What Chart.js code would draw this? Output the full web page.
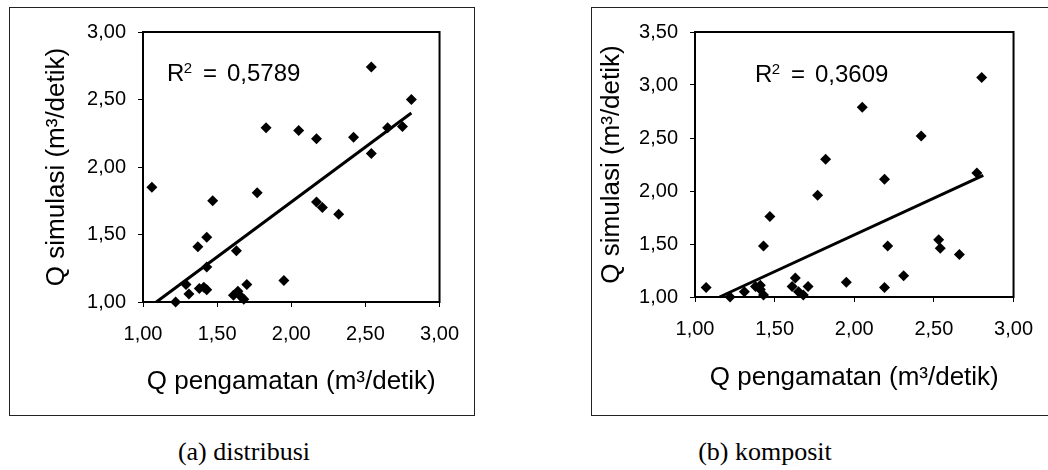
<!DOCTYPE html>
<html>
<head>
<meta charset="utf-8">
<script src="https://cdn.jsdelivr.net/npm/chart.js@4.4.1/dist/chart.umd.min.js"></script>
<style>
body{margin:0;background:#fff;width:1048px;height:470px;overflow:hidden;position:relative}
.kotak{position:absolute;border:1px solid #222;background:#fff;overflow:hidden}
.kotak canvas{display:block}
.caption{position:absolute;font-family:"Liberation Serif","Times New Roman",serif;font-size:26px;line-height:26px;color:#000;white-space:nowrap;transform:translateX(-50%)}
</style>
</head>
<body>

<div class="kotak" style="left:9px;top:7px;width:464px;height:407px"><canvas id="chartDistribusi" width="464" height="407"></canvas></div>
<div class="kotak" style="left:591px;top:7px;width:470px;height:407px"><canvas id="chartKomposit" width="456" height="407"></canvas></div>

<div class="caption" style="left:244px;top:439px">(a) distribusi</div>
<div class="caption" style="left:765px;top:439px">(b) komposit</div>

<script>
// tick labels
const xTicks=[1,1.5,2,2.5,3]
const yTicksDistribusi=[1,1.5,2,2.5,3]
const yTicksKomposit=[1,1.5,2,2.5,3,3.5]

// (a) distribusi
const distribusiX=[1.06,1.22,1.29,1.31,1.37,1.38,1.41,1.43,1.43,1.43,1.47,1.61,1.63,1.64,1.66,1.68,1.70,1.77,1.83,1.95,2.05,2.17,2.17,2.21,2.32,2.42,2.54,2.54,2.65,2.75,2.81]
const distribusiY=[1.85,1.00,1.13,1.06,1.41,1.10,1.11,1.09,1.26,1.48,1.75,1.05,1.38,1.08,1.04,1.02,1.13,1.81,2.29,1.16,2.27,2.21,1.74,1.70,1.65,2.22,2.74,2.10,2.29,2.30,2.50]
const trendDistribusiX=[1.09,2.81]
const trendDistribusiY=[1.00,2.40]

// (b) komposit
const kompositX=[1.07,1.22,1.31,1.38,1.41,1.41,1.43,1.43,1.47,1.61,1.63,1.65,1.68,1.71,1.77,1.82,1.95,2.05,2.19,2.19,2.21,2.31,2.42,2.53,2.54,2.66,2.77,2.80]
const kompositY=[1.09,1.00,1.05,1.10,1.11,1.07,1.02,1.48,1.76,1.10,1.18,1.05,1.02,1.10,1.96,2.30,1.14,2.79,2.11,1.09,1.48,1.20,2.52,1.54,1.46,1.40,2.17,3.07]
const trendKompositX=[1.154,2.81]
const trendKompositY=[1.00,2.148]

const FONT="'Liberation Sans', Arial, sans-serif"

function fmt(v){
return Number(v).toFixed(2).replace(".",",")
}

function gabung(xs,ys){
return xs.map((x,i)=>({x:x,y:ys[i]}))
}

// kotak plot + label R2
const kotakPlot={
id:"kotakPlot",
afterDatasetsDraw(chart,args,opt){
let ctx=chart.ctx
let a=chart.chartArea
ctx.save()
ctx.strokeStyle="#000"
ctx.lineWidth=2
ctx.strokeRect(a.left,a.top,a.right-a.left,a.bottom-a.top)

ctx.fillStyle="#000"
ctx.textBaseline="alphabetic"
ctx.textAlign="left"
ctx.font="24px "+FONT
ctx.fillText("R",opt.x,opt.y)
let w=ctx.measureText("R").width
ctx.font="15px "+FONT
ctx.fillText("2",opt.x+w-0.5,opt.y-8)
ctx.font="24px "+FONT
ctx.fillText("=",opt.x+36,opt.y)
ctx.fillText(opt.teks,opt.x+60,opt.y)
ctx.restore()
}
}

function buatChart(id,titik,garis,yTicks,yMax,u,r2){

new Chart(document.getElementById(id),{

type:"scatter",

data:{
datasets:[
{
data:titik,
backgroundColor:"#000",
borderColor:"#000",
pointStyle:"rectRot",
pointRadius:5.5,
pointHoverRadius:5.5,
borderWidth:0,
clip:false
},
{
type:"line",
data:garis,
borderColor:"#000",
borderWidth:3,
pointRadius:0,
fill:false,
clip:false
}
]
},

options:{
responsive:false,
animation:false,
devicePixelRatio:1,
events:[],
layout:{padding:{top:u.top,right:u.right,left:0,bottom:0}},
plugins:{
legend:{display:false},
tooltip:{enabled:false},
kotakPlot:r2
},
scales:{
x:{
type:"linear",
min:1,
max:3,
afterBuildTicks:s=>{s.ticks=xTicks.map(v=>({value:v}))},
afterFit:s=>{s.height=u.xh},
grid:{drawOnChartArea:false,color:"#000",tickLength:5,lineWidth:1},
border:{display:false},
ticks:{autoSkip:false,maxRotation:0,padding:15,color:"#000",font:{family:FONT,size:20},callback:v=>fmt(v)},
title:{display:true,text:"Q pengamatan (m³/detik)",color:"#000",font:{family:FONT,size:26},padding:{top:0,bottom:u.xt}}
},
y:{
type:"linear",
min:1,
max:yMax,
afterBuildTicks:s=>{s.ticks=yTicks.map(v=>({value:v}))},
afterFit:s=>{s.width=u.yw},
grid:{drawOnChartArea:false,color:"#000",tickLength:5,lineWidth:1},
border:{display:false},
ticks:{autoSkip:false,padding:12,color:"#000",font:{family:FONT,size:20},callback:v=>fmt(v)},
title:{display:true,text:"Q simulasi (m³/detik)",color:"#000",font:{family:FONT,size:26},padding:{top:u.yt,bottom:0}}
}
}
},

plugins:[kotakPlot]

})

}

buatChart("chartDistribusi",
gabung(distribusiX,distribusiY),
gabung(trendDistribusiX,trendDistribusiY),
yTicksDistribusi,3,
{top:24,right:21,xh:113,yw:133,xt:18,yt:31},
{x:157,y:73,teks:"0,5789"})

buatChart("chartKomposit",
gabung(kompositX,kompositY),
gabung(trendKompositX,trendKompositY),
yTicksKomposit,3.5,
{top:19,right:29,xh:118,yw:103,xt:22,yt:4},
{x:163,y:74,teks:"0,3609"})
</script>
</body>
</html>
